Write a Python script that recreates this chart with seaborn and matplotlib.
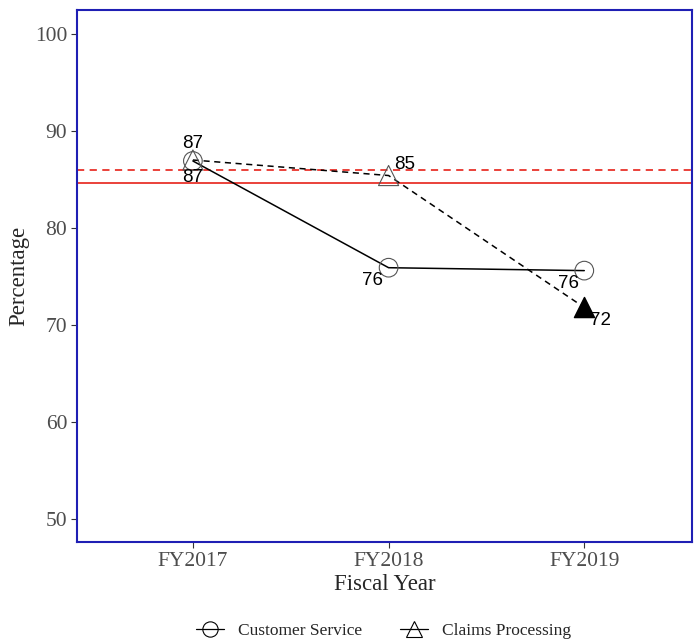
import matplotlib
matplotlib.use('Agg')
import matplotlib.pyplot as plt
from matplotlib.lines import Line2D
import seaborn as sns
import pandas as pd

# data
years = ['FY2017', 'FY2018', 'FY2019']
customer_service = [86.9, 75.9, 75.6]
claims_processing = [87.0, 85.4, 71.8]
cs_target = 84.6
claims_target = 86.0

sns.set_style('white')
plt.rcParams['font.family'] = ['Liberation Serif', 'DejaVu Serif']

df = pd.DataFrame({'year': years, 'x': [1, 2, 3],
                   'cs': customer_service, 'cp': claims_processing})

fig = plt.figure(figsize=(6.94, 6.41), dpi=100)
ax = fig.add_axes([0.111, 0.154, 0.886, 0.831])

# target lines
ax.axhline(claims_target, color='#e8332b', lw=1.3, ls=(0, (4, 3)), zorder=1)
ax.axhline(cs_target, color='#e8332b', lw=1.3, zorder=1)

# series lines
sns.lineplot(data=df, x='x', y='cs', color='black', lw=1.1, ax=ax, zorder=2)
sns.lineplot(data=df, x='x', y='cp', color='black', lw=1.1, ax=ax, zorder=2)
ax.lines[-1].set_linestyle((0, (4, 3)))

# markers
ax.scatter(df['x'], df['cs'], s=180, marker='o', facecolor='none',
           edgecolor='#555555', lw=0.8, zorder=3)
ax.scatter(df['x'][:2], df['cp'][:2], s=210, marker='^', facecolor='none',
           edgecolor='#555555', lw=0.8, zorder=3)
ax.scatter(df['x'][2:], df['cp'][2:], s=210, marker='^', facecolor='black',
           edgecolor='black', zorder=3)

# value labels
lab = dict(fontsize=13.5, family=['Liberation Sans', 'DejaVu Sans'], color='black',
           textcoords='offset points')
ax.annotate(f"{claims_processing[0]:.0f}", (1, claims_processing[0]), xytext=(0, 6),
            ha='center', va='bottom', **lab)
ax.annotate(f"{customer_service[0]:.0f}", (1, customer_service[0]), xytext=(0, -6),
            ha='center', va='top', **lab)
ax.annotate(f"{claims_processing[1]:.0f}", (2, claims_processing[1]), xytext=(4, 2),
            ha='left', va='bottom', **lab)
ax.annotate(f"{customer_service[1]:.0f}", (2, customer_service[1]), xytext=(-4, -3),
            ha='right', va='top', **lab)
ax.annotate(f"{customer_service[2]:.0f}", (3, customer_service[2]), xytext=(-4, -3),
            ha='right', va='top', **lab)
ax.annotate(f"{claims_processing[2]:.0f}", (3, claims_processing[2]), xytext=(4, -3),
            ha='left', va='top', **lab)

ax.set_xlim(0.408, 3.55)
ax.set_ylim(47.6, 102.5)
ax.set_xticks([1, 2, 3])
ax.set_xticklabels(years)
ax.set_yticks([50, 60, 70, 80, 90, 100])
ax.tick_params(axis='both', labelsize=15.5, labelcolor='#4d4d4d', color='#333333',
               length=4, width=0.8, direction='out', bottom=True, left=True, pad=3)
ax.set_xlabel('Fiscal Year', fontsize=16.5, labelpad=2)
ax.set_ylabel('Percentage', fontsize=16.5, labelpad=4)
for s in ax.spines.values():
    s.set_color('#1f1fb4')
    s.set_linewidth(1.5)

handles = [Line2D([], [], color='black', lw=0.9, marker='o', mfc='none', ms=11,
                  mew=0.8),
           Line2D([], [], color='black', lw=0.9, marker='^', mfc='none', ms=12,
                  mew=0.8)]
fig.legend(handles, ['Customer Service', 'Claims Processing'], loc='lower center',
           bbox_to_anchor=(0.553, -0.022), ncol=2, frameon=False, fontsize=12.5,
           handlelength=1.6, columnspacing=2.2)

fig.savefig('out.png', dpi=100)
